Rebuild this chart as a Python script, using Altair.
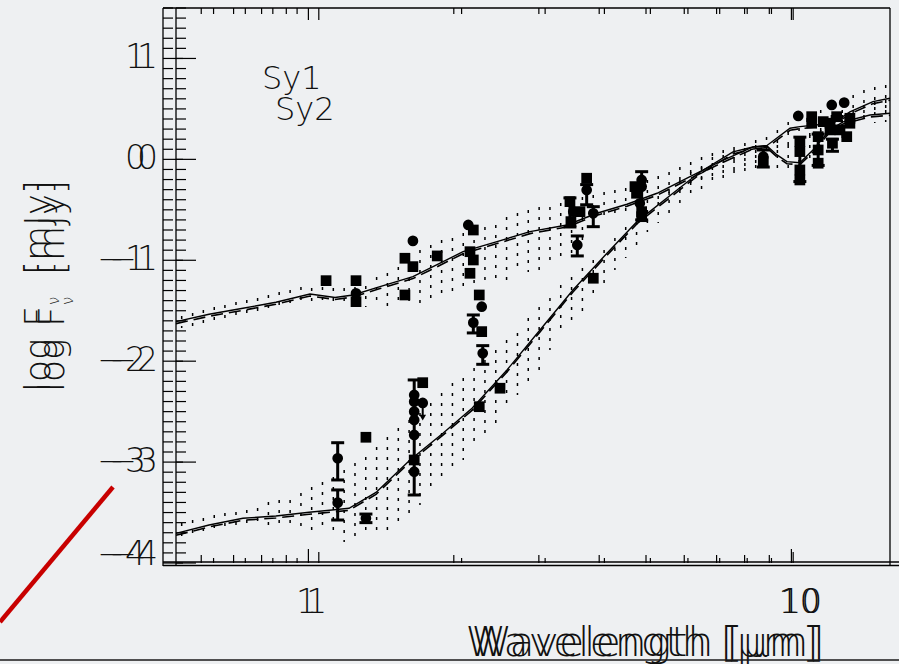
import altair as alt
import pandas as pd

# ---------------- layout ----------------
W, H = 714, 555                  # plot area in pixels
XDOM = [0.5, 16.0]               # wavelength range (micron, log axis)
YDOM = [-4.0, 1.5]               # log F_nu range
GHOST = [-13, W]                 # range of the second, offset copy of the frame

BG = "#eef0f2"
INK = "#000000"
TXT = "#111111"
FONT = "DejaVu Sans"
FW = 200

# ---------------- model SEDs ----------------
sy1_wl = [0.5, 0.587, 0.692, 0.812, 0.958, 1.082, 1.181, 1.346, 1.579, 1.716, 2.014,
          2.375, 2.787, 3.336, 3.858, 4.464, 5.164, 6.061, 7.012, 8.230, 8.808, 9.847,
          10.33, 12.13, 13.17, 14.73, 16.0]
sy1_logf = [-1.608, -1.535, -1.476, -1.416, -1.334, -1.369, -1.344, -1.261, -1.162, -1.079,
            -0.915, -0.815, -0.716, -0.650, -0.534, -0.445, -0.336, -0.171, -0.023, 0.123,
            0.138, 0.308, 0.324, 0.358, 0.470, 0.572, 0.606]
sy2_wl = [0.5, 0.587, 0.692, 0.812, 0.954, 1.158, 1.320, 1.557, 1.827, 2.104, 2.493,
          2.926, 3.434, 4.051, 4.687, 5.579, 6.362, 7.467, 8.230, 8.808, 9.245, 9.703,
          10.33, 11.01, 11.96, 12.74, 14.52, 16.0]
sy2_logf = [-3.706, -3.623, -3.557, -3.534, -3.497, -3.458, -3.301, -2.979, -2.714, -2.467,
            -2.087, -1.691, -1.294, -0.930, -0.617, -0.336, -0.125, 0.074, 0.123, 0.133,
            0.044, -0.023, -0.033, 0.093, 0.292, 0.371, 0.440, 0.457]

# ---------------- spread of the models (hatched bands) ----------------
band_wl = [0.514, 0.542, 0.571, 0.602, 0.634, 0.669, 0.705, 0.743, 0.783, 0.825, 0.870,
           0.917, 0.966, 1.018, 1.073, 1.131, 1.192, 1.256, 1.324, 1.395, 1.471, 1.550,
           1.634, 1.722, 1.815, 1.913, 2.016, 2.125, 2.240, 2.361, 2.488, 2.623, 2.764,
           2.914, 3.071, 3.236, 3.411, 3.595, 3.789, 3.994, 4.209, 4.436, 4.676, 4.928,
           5.194, 5.475, 5.770, 6.081, 6.410, 6.756, 7.120, 7.505, 7.910, 8.337, 8.787,
           9.262, 9.761, 10.29, 10.84, 11.43, 12.04, 12.69, 13.38, 14.10, 14.86, 15.67]
sy1_hi = [-1.552, -1.522, -1.492, -1.463, -1.443, -1.413, -1.393, -1.374, -1.344, -1.314,
          -1.294, -1.264, -1.274, -1.264, -1.274, -1.274, -1.264, -1.255, -1.165, -1.126,
          -1.066, -0.977, -0.898, -0.848, -0.799, -0.779, -0.729, -0.700, -0.670, -0.650,
          -0.571, -0.531, -0.501, -0.472, -0.472, -0.432, -0.402, -0.372, -0.353, -0.323,
          -0.303, -0.283, -0.234, -0.204, -0.164, -0.125, -0.075, -0.026, 0.024, 0.064,
          0.093, 0.123, 0.163, 0.192, 0.222, 0.292, 0.371, 0.410, 0.460, 0.490, 0.539,
          0.589, 0.638, 0.688, 0.718, 0.738]
sy1_lo = [-1.671, -1.651, -1.621, -1.592, -1.572, -1.542, -1.522, -1.502, -1.483, -1.463,
          -1.443, -1.423, -1.443, -1.453, -1.463, -1.463, -1.463, -1.463, -1.463, -1.463,
          -1.443, -1.463, -1.423, -1.393, -1.393, -1.344, -1.294, -1.274, -1.215, -1.195,
          -1.195, -1.126, -1.116, -1.096, -1.066, -1.017, -0.947, -0.848, -0.700, -0.620,
          -0.571, -0.551, -0.531, -0.501, -0.452, -0.402, -0.353, -0.303, -0.254, -0.224,
          -0.184, -0.154, -0.105, -0.085, -0.026, 0.024, 0.093, 0.143, 0.192, 0.242, 0.292,
          0.341, 0.410, 0.460, 0.490, 0.510]
sy2_hi = [-3.603, -3.574, -3.554, -3.524, -3.504, -3.494, -3.475, -3.455, -3.395, -3.376,
          -3.376, -3.306, -3.247, -3.197, -3.148, -3.078, -3.009, -2.949, -2.850, -2.751,
          -2.662, -2.583, -2.513, -2.414, -2.315, -2.216, -2.166, -2.067, -1.988, -1.889,
          -1.790, -1.720, -1.572, -1.463, -1.374, -1.245, -1.165, -1.076, -0.997, -0.898,
          -0.779, -0.670, -0.620, -0.501, -0.422, -0.303, -0.204, -0.105, -0.065, 0.024,
          0.044, 0.093, 0.113, 0.143, 0.143, 0.143, 0.143, 0.192, 0.242, 0.311, 0.371,
          0.440, 0.490, 0.539, 0.569, 0.589]
sy2_lo = [-3.742, -3.742, -3.722, -3.703, -3.693, -3.673, -3.653, -3.643, -3.653, -3.643,
          -3.623, -3.673, -3.673, -3.693, -3.742, -3.792, -3.792, -3.742, -3.742, -3.703,
          -3.643, -3.544, -3.425, -3.296, -3.197, -3.098, -2.979, -2.860, -2.751, -2.632,
          -2.434, -2.335, -2.216, -2.087, -1.889, -1.740, -1.661, -1.522, -1.374, -1.225,
          -1.096, -0.977, -0.848, -0.719, -0.630, -0.571, -0.472, -0.402, -0.333, -0.273,
          -0.254, -0.204, -0.154, -0.125, -0.085, -0.105, -0.125, -0.105, -0.055, 0.014,
          0.093, 0.192, 0.292, 0.341, 0.361, 0.371]

# ---------------- photometry ----------------
pt_wl = [1.036, 1.198, 1.198, 1.198, 1.519, 1.519, 1.579, 1.579, 1.777, 2.066, 2.117,
         2.083, 2.117, 2.083, 2.179, 2.205, 2.117, 2.205, 2.216, 1.096, 1.096, 1.257,
         1.257, 1.589, 1.589, 1.589, 1.589, 1.589, 1.589, 1.589, 1.656, 1.656, 2.410,
         2.179, 3.670, 3.670, 3.384, 3.553, 3.439, 3.400, 3.790, 3.507, 3.790, 4.793,
         4.793, 4.640, 4.675, 4.750, 4.793, 4.793, 8.65, 8.65, 10.25, 10.33, 10.33,
         10.33, 10.33, 10.94, 10.94, 11.29, 11.29, 11.29, 11.57, 11.96, 12.35, 11.96,
         12.55, 12.97, 12.10, 13.17, 13.17, 12.06, 12.81]
pt_logf = [-1.202, -1.202, -1.327, -1.410, -1.344, -0.980, -1.063, -0.808, -0.957, -0.650,
           -0.700, -0.915, -0.997, -1.129, -1.344, -1.460, -1.618, -1.707, -1.922, -2.962,
           -3.402, -2.754, -3.557, -2.335, -2.401, -2.500, -2.583, -2.731, -2.979, -3.095,
           -2.213, -2.414, -2.268, -2.451, -0.187, -0.303, -0.419, -0.518, -0.518, -0.617,
           -0.534, -0.848, -1.178, -0.204, -0.270, -0.270, -0.336, -0.435, -0.518, -0.568,
           0.027, -0.023, 0.430, 0.176, 0.077, -0.105, -0.204, 0.423, 0.358, 0.225, 0.093,
           -0.038, 0.374, 0.358, 0.423, 0.292, 0.292, 0.225, 0.160, 0.358, 0.407, 0.539,
           0.562]
pt_shape = ["square", "square", "circle", "square", "square", "square", "square", "circle",
            "square", "circle", "square", "square", "square", "square", "square", "circle",
            "circle", "square", "circle", "circle", "circle", "square", "circle", "circle",
            "circle", "circle", "circle", "circle", "square", "circle", "square", "circle",
            "square", "square", "square", "circle", "square", "square", "circle", "square",
            "circle", "circle", "square", "circle", "circle", "square", "square", "circle",
            "square", "square", "circle", "square", "circle", "square", "square", "square",
            "square", "square", "square", "square", "square", "square", "square", "square",
            "square", "square", "square", "square", "square", "square", "square", "circle",
            "circle"]

eb_wl = [2.117, 2.216, 1.096, 1.096, 1.257, 1.589, 3.670, 3.384, 3.790, 3.507, 4.793,
         8.65, 10.33, 11.29, 12.10]
eb_lo = [-1.720, -2.031, -3.177, -3.574, -3.600, -3.326, -0.450, -0.670, -0.667, -0.957,
         -0.600, -0.076, -0.220, -0.060, 0.080]
eb_hi = [-1.542, -1.846, -2.808, -3.276, -3.515, -2.186, -0.250, -0.382, -0.469, -0.759,
         -0.122, 0.093, 0.220, 0.250, 0.200]

lim_wl = [1.656]
lim_from = [-2.414]
lim_to = [-2.560]

# ---------------- axis ticks / labels ----------------
x_minor = [0.6, 0.7, 0.8, 0.9, 2, 3, 4, 5, 6, 7, 8, 9]
x_major = [1, 10]
x_text = ["1", "10"]
y_major = [-4, -3, -2, -1, 0, 1]
y_minor = [round(-4 + 0.1 * i, 1) for i in range(56) if i % 10 != 0]
y_lab_val = [1, 0, -1, -2, -3]
y_lab_txt = ["1", "0", "\u22121", "\u22122", "\u22123"]
y_low_txt = ["\u22124"]


# ---------------- helpers ----------------
def xsc(ghost=False):
    if ghost:
        return alt.Scale(type="log", domain=XDOM, nice=False, range=GHOST)
    return alt.Scale(type="log", domain=XDOM, nice=False)


YSC = alt.Scale(domain=YDOM, nice=False, zero=False)


def X(field, ghost=False):
    return alt.X(f"{field}:Q", scale=xsc(ghost), axis=None)


def Y(field):
    return alt.Y(f"{field}:Q", scale=YSC, axis=None)


ONE = pd.DataFrame({"k": [0]})


def seg(x, y, x2, y2, color=INK, width=1.3):
    return alt.Chart(ONE).mark_rule(color=color, strokeWidth=width).encode(
        x=alt.value(x), y=alt.value(y), x2=alt.value(x2), y2=alt.value(y2))


def label(text, x, y, size, align="left", angle=0, baseline="alphabetic"):
    return alt.Chart(ONE).mark_text(
        text=text, font=FONT, fontWeight=FW, fontSize=size, color=TXT,
        align=align, baseline=baseline, angle=angle).encode(
        x=alt.value(x), y=alt.value(y))


layers = []

# hatched bands
band_df = pd.concat([
    pd.DataFrame({"wl": band_wl, "hi": sy1_hi, "lo": sy1_lo, "model": "Sy1"}),
    pd.DataFrame({"wl": band_wl, "hi": sy2_hi, "lo": sy2_lo, "model": "Sy2"}),
])
layers.append(alt.Chart(band_df).mark_rule(
    color=INK, strokeWidth=1.5, strokeDash=[3, 7]).encode(
    x=X("wl"), y=Y("hi"), y2="lo:Q"))

# model curves: solid and dashed versions
curve_df = pd.concat([
    pd.DataFrame({"wl": sy1_wl, "logf": sy1_logf, "model": "Sy1"}),
    pd.DataFrame({"wl": sy2_wl, "logf": sy2_logf, "model": "Sy2"}),
])
layers.append(alt.Chart(curve_df).mark_line(color=INK, strokeWidth=1.4).encode(
    x=X("wl"), y=Y("logf"), detail="model:N"))
layers.append(alt.Chart(curve_df).mark_line(
    color=INK, strokeWidth=1.6, strokeDash=[12, 6], yOffset=2).encode(
    x=X("wl"), y=Y("logf"), detail="model:N"))

# error bars with caps
eb_df = pd.DataFrame({"wl": eb_wl, "lo": eb_lo, "hi": eb_hi})
layers.append(alt.Chart(eb_df).mark_rule(color=INK, strokeWidth=3).encode(
    x=X("wl"), y=Y("lo"), y2="hi:Q"))
for end in ["lo", "hi"]:
    layers.append(alt.Chart(eb_df).mark_tick(
        color=INK, orient="horizontal", size=13, thickness=3, opacity=1).encode(
        x=X("wl"), y=Y(end)))

# upper limit arrow
lim_df = pd.DataFrame({"wl": lim_wl, "a": lim_from, "b": lim_to})
layers.append(alt.Chart(lim_df).mark_rule(color=INK, strokeWidth=2).encode(
    x=X("wl"), y=Y("a"), y2="b:Q"))
layers.append(alt.Chart(lim_df).mark_point(
    shape="triangle-down", filled=True, color=INK, size=45, opacity=1).encode(
    x=X("wl"), y=Y("b")))

# photometric points
pt_df = pd.DataFrame({"wl": pt_wl, "logf": pt_logf, "shape": pt_shape})
layers.append(alt.Chart(pt_df).mark_point(
    filled=True, color=INK, size=115, opacity=1).encode(
    x=X("wl"), y=Y("logf"),
    shape=alt.Shape("shape:N", scale=alt.Scale(domain=["square", "circle"],
                                               range=["square", "circle"]), legend=None)))

# ---------------- frame (drawn twice, slightly offset) ----------------
layers += [
    seg(GHOST[0], 0, W, 0),
    seg(GHOST[0], 0, GHOST[0], H + 3),
    seg(0, 0, 0, H + 3),
    seg(W, 0, W, H + 3),
    seg(GHOST[0], H - 1, W + 9, H - 1),
    seg(GHOST[0], H + 2.5, W + 9, H + 2.5),
]

xmin_df = pd.DataFrame({"v": x_minor})
xmaj_df = pd.DataFrame({"v": x_major, "t": x_text})
for ghost, bot_min, bot_maj in [(True, 8, 14), (False, 5, 11)]:
    layers.append(alt.Chart(xmin_df).mark_rule(color=INK, strokeWidth=1.2).encode(
        x=X("v", ghost), y=alt.value(0), y2=alt.value(6)))
    layers.append(alt.Chart(xmaj_df).mark_rule(color=INK, strokeWidth=1.2).encode(
        x=X("v", ghost), y=alt.value(0), y2=alt.value(12)))
    layers.append(alt.Chart(xmin_df).mark_rule(color=INK, strokeWidth=1.2).encode(
        x=X("v", ghost), y=alt.value(H), y2=alt.value(H - bot_min)))
    layers.append(alt.Chart(xmaj_df).mark_rule(color=INK, strokeWidth=1.2).encode(
        x=X("v", ghost), y=alt.value(H), y2=alt.value(H - bot_maj)))
    # decade labels; the two-digit one sits a little right of its tick
    for i, shift in [(0, -2), (1, 8)]:
        layers.append(alt.Chart(xmaj_df.iloc[[i]]).mark_text(
            font=FONT, fontWeight=FW, fontSize=33, color=TXT, align="center",
            baseline="middle", dx=shift).encode(
            x=X("v", ghost), y=alt.value(595), text="t:N"))

ymin_df = pd.DataFrame({"v": y_minor})
ymaj_df = pd.DataFrame({"v": y_major})
for x0 in [GHOST[0], 0]:
    layers.append(alt.Chart(ymin_df).mark_rule(color=INK, strokeWidth=1.2).encode(
        y=Y("v"), x=alt.value(x0), x2=alt.value(x0 + 10)))
    layers.append(alt.Chart(ymaj_df).mark_rule(color=INK, strokeWidth=1.2).encode(
        y=Y("v"), x=alt.value(x0), x2=alt.value(x0 + 20)))

ylab_df = pd.DataFrame({"v": y_lab_val, "t": y_lab_txt})
ylow_df = pd.DataFrame({"v": [YDOM[0]], "t": y_low_txt})
for xr in [-30, -18]:
    layers.append(alt.Chart(ylab_df).mark_text(
        font=FONT, fontWeight=FW, fontSize=33, color=TXT, align="right",
        baseline="middle").encode(y=Y("v"), x=alt.value(xr), text="t:N"))
    layers.append(alt.Chart(ylow_df).mark_text(
        font=FONT, fontWeight=FW, fontSize=33, color=TXT, align="right",
        baseline="alphabetic", dy=2).encode(y=Y("v"), x=alt.value(xr), text="t:N"))

# axis titles (also doubled)
for dx in [0, 6]:
    layers.append(label("Wavelength [\u03bcm]", 466 + dx, 648, 41, align="center"))
for bx in [-126, -112]:
    layers.append(label("log F", bx, 384, 36, angle=270))
    layers.append(label("\u03bd", bx + 9, 297, 15, angle=270))
    layers.append(label("[mJy]", bx, 267, 36, angle=270))

# legend text
layers.append(label("Sy1", 86, 81, 32))
layers.append(label("Sy2", 99, 112, 32))

# decorative strokes outside the frame
layers.append(seg(-176, 614, -63, 479, color="#c80000", width=4.5))
layers.append(seg(-176, 652, W + 9, 652, color="#1a1a1a", width=1.5))

chart = alt.layer(*layers).resolve_scale(x="independent").properties(
    width=W, height=H,
    autosize=alt.AutoSizeParams(type="none"),
    padding={"left": 176, "top": 8, "right": 9, "bottom": 101},
).configure(background=BG).configure_view(stroke=None)

chart.save("out.html", embed_options={"renderer": "svg", "actions": False})
